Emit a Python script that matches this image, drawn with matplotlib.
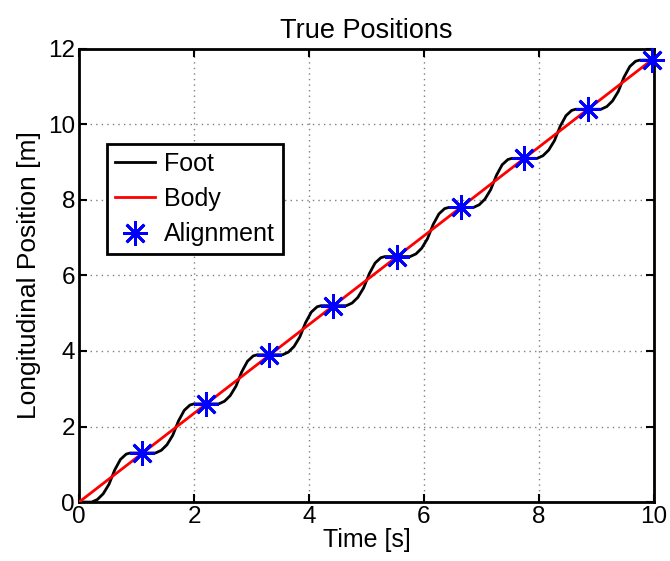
import matplotlib
matplotlib.use("Agg")
import matplotlib.pyplot as plt

plt.rcParams['font.family'] = ['Liberation Sans', 'DejaVu Sans']

# foot trajectory: flat while planted, S-shaped rise during each stride
foot_t = [0.0,
          0.22, 0.32, 0.42, 0.52, 0.62, 0.72, 0.82, 0.89,
          1.33, 1.43, 1.53, 1.63, 1.73, 1.83, 1.93, 2.0,
          2.43, 2.53, 2.63, 2.73, 2.83, 2.93, 3.03, 3.1,
          3.54, 3.64, 3.74, 3.84, 3.94, 4.04, 4.14, 4.21,
          4.65, 4.75, 4.85, 4.95, 5.05, 5.15, 5.25, 5.32,
          5.76, 5.86, 5.96, 6.06, 6.16, 6.26, 6.36, 6.43,
          6.86, 6.96, 7.06, 7.16, 7.26, 7.36, 7.46, 7.53,
          7.97, 8.07, 8.17, 8.27, 8.37, 8.47, 8.57, 8.64,
          9.08, 9.18, 9.28, 9.38, 9.48, 9.58, 9.68, 9.75,
          10.0]
foot_y = [0.0,
          0.0, 0.07, 0.22, 0.47, 0.85, 1.13, 1.27, 1.3,
          1.3, 1.37, 1.52, 1.77, 2.15, 2.43, 2.57, 2.6,
          2.6, 2.67, 2.82, 3.07, 3.45, 3.73, 3.87, 3.9,
          3.9, 3.97, 4.12, 4.37, 4.75, 5.03, 5.17, 5.2,
          5.2, 5.27, 5.42, 5.67, 6.05, 6.33, 6.47, 6.5,
          6.5, 6.57, 6.72, 6.97, 7.35, 7.63, 7.77, 7.8,
          7.8, 7.87, 8.02, 8.27, 8.65, 8.93, 9.07, 9.1,
          9.1, 9.17, 9.32, 9.57, 9.95, 10.23, 10.37, 10.4,
          10.4, 10.47, 10.62, 10.87, 11.25, 11.53, 11.67, 11.7,
          11.7]

# body moves at constant speed
body_t = [0.0, 10.0]
body_y = [0.0, 11.75]

# alignment instants (mid-stance)
align_t = [1.1, 2.2, 3.3, 4.42, 5.53, 6.65, 7.74, 8.85, 9.96]
align_y = [1.3, 2.6, 3.9, 5.2, 6.5, 7.8, 9.1, 10.4, 11.7]

xticks = [0, 2, 4, 6, 8, 10]
yticks = [0, 2, 4, 6, 8, 10, 12]

fig = plt.figure(figsize=(6.7, 5.61), dpi=100)
ax = fig.add_axes([0.118, 0.105, 0.858, 0.808])

ax.plot(foot_t, foot_y, color='black', lw=2, label='Foot', zorder=3)
ax.plot(body_t, body_y, color='red', lw=2, label='Body', zorder=4)
ax.plot(align_t, align_y, ls='none', marker=(8, 2, 0), ms=18, mew=2,
        color='blue', label='Alignment', zorder=5, clip_on=False)

ax.set_xlim(0, 10)
ax.set_ylim(0, 12)
ax.set_xticks(xticks)
ax.set_yticks(yticks)
ax.grid(True, ls=(0, (1, 3)), color='#808080', lw=1)
ax.tick_params(direction='in', length=6, width=1.5, top=True, right=True,
               labelsize=17.5, pad=3)
for s in ax.spines.values():
    s.set_linewidth(2)

ax.set_xlabel('Time [s]', fontsize=18, labelpad=0)
ax.set_ylabel('Longitudinal Position [m]', fontsize=19, labelpad=5)
ax.set_title('True Positions', fontsize=19.5, pad=8)

leg = ax.legend(loc='upper left', bbox_to_anchor=(0.049, 0.79), borderaxespad=0,
                fontsize=18, fancybox=False, framealpha=1, edgecolor='black',
                handlelength=1.6, handletextpad=0.35, labelspacing=0.45,
                borderpad=0.32)
leg.get_frame().set_linewidth(2)

fig.savefig('out.png', dpi=100)
